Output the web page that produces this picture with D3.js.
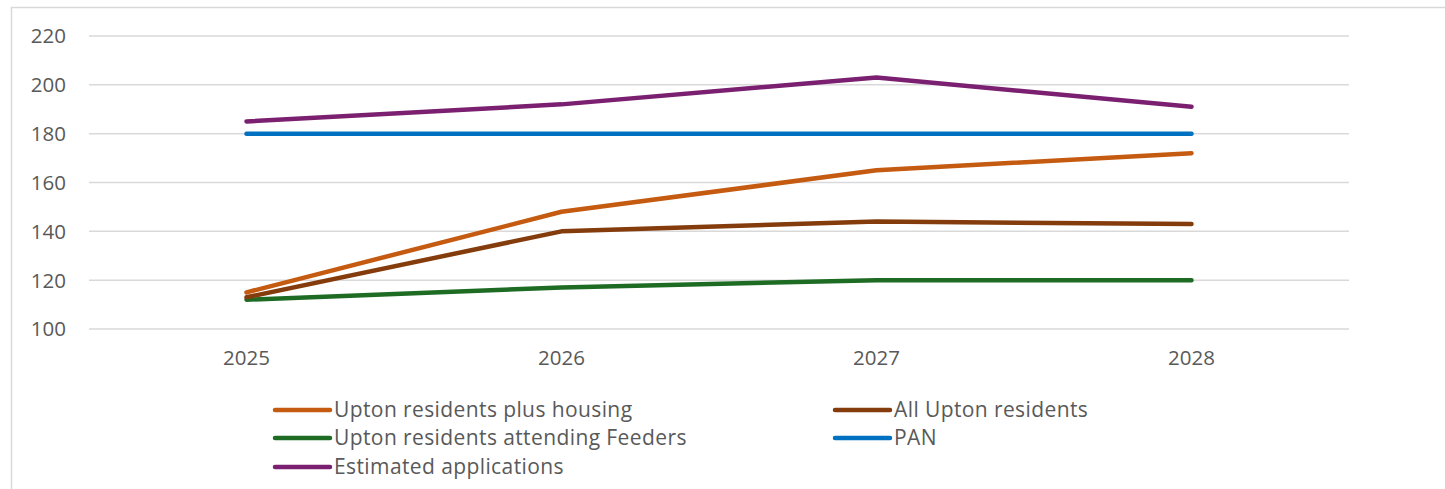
<!DOCTYPE html>
<html><head><meta charset="utf-8">
<script src="https://cdn.jsdelivr.net/npm/d3@7"></script>
<style>html,body{margin:0;padding:0;background:#fff;overflow:hidden}</style>
</head><body>
<svg id="c" width="1445" height="489"></svg>
<script>
const years = ["2025","2026","2027","2028"];
const yTicks = [100,120,140,160,180,200,220];
const seriesNames = ["Upton residents plus housing","All Upton residents","Upton residents attending Feeders","PAN","Estimated applications"];
const plusHousing = [115,148,165,172];
const allResidents = [113,140,144,143];
const feeders = [112,117,120,120];
const pan = [180,180,180,180];
const estimated = [185,192,203,191];
const colors = ["#C55A11","#843C0C","#1E6B24","#0070C0","#7B2070"];

const series = [plusHousing, allResidents, feeders, pan, estimated].map((v,i)=>({name:seriesNames[i], values:v, color:colors[i]}));

const svg = d3.select("#c");
const font = "'Open Sans', 'Noto Sans', sans-serif";

// frame
svg.append("path").attr("d","M11.5,489 V7.5 H1445").attr("fill","none").attr("stroke","#D9D9D9").attr("stroke-width",1.5);

const x = d3.scalePoint().domain(years).range([89,1349]).padding(0.5);
const y = d3.scaleLinear().domain([100,220]).range([329,36]);

// gridlines
svg.append("g").selectAll("line").data(yTicks).join("line")
  .attr("x1",89).attr("x2",1349).attr("y1",d=>y(d)).attr("y2",d=>y(d))
  .attr("stroke","#D9D9D9").attr("stroke-width",1.5);

// y labels
svg.append("g").selectAll("text").data(yTicks).join("text")
  .attr("x",66).attr("y",d=>y(d)).attr("dy","0.36em").attr("text-anchor","end")
  .attr("font-family",font).attr("font-size",20.5).attr("fill","#595959").text(d=>d);

// x labels
svg.append("g").selectAll("text").data(years).join("text")
  .attr("x",d=>x(d)).attr("y",358).attr("dy","0.36em").attr("text-anchor","middle")
  .attr("font-family",font).attr("font-size",20.5).attr("fill","#595959").text(d=>d);

const line = d3.line().x((d,i)=>x(years[i])).y(d=>y(d));
// draw order: PAN, estimated, feeders, all residents, plus housing
const order = [3,4,2,1,0];
svg.append("g").selectAll("path").data(order.map(i=>series[i])).join("path")
  .attr("d",d=>line(d.values)).attr("fill","none").attr("stroke",d=>d.color)
  .attr("stroke-width",4.5).attr("stroke-linecap","round").attr("stroke-linejoin","round");

// legend
const legPos = [[275,410],[835,410],[275,438],[835,438],[275,467]];
const lg = svg.append("g").selectAll("g").data(series).join("g")
  .attr("transform",(d,i)=>`translate(${legPos[i][0]},${legPos[i][1]})`);
lg.append("line").attr("x1",0).attr("x2",55).attr("stroke",d=>d.color).attr("stroke-width",4.5).attr("stroke-linecap","round");
lg.append("text").attr("x",59).attr("dy","0.35em").attr("font-family",font).attr("font-size",21)
  .attr("letter-spacing",0.4).attr("fill","#595959").text(d=>d.name);
</script>
</body></html>
